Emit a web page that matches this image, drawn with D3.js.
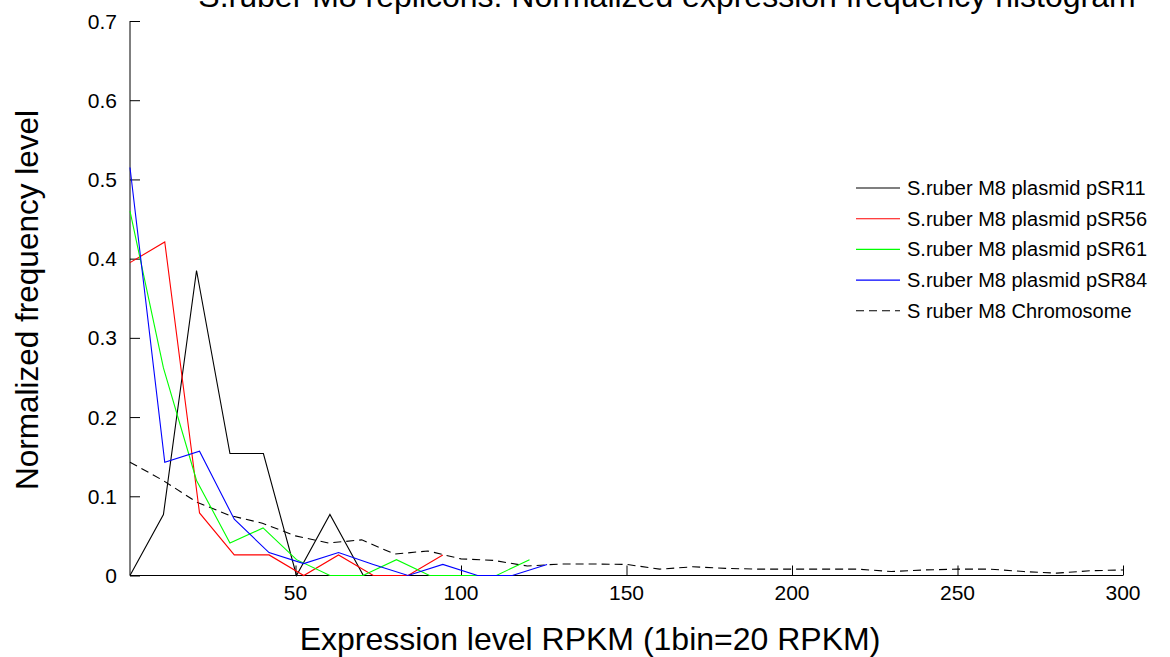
<!DOCTYPE html>
<html>
<head>
<meta charset="utf-8">
<script src="https://cdn.jsdelivr.net/npm/d3@7"></script>
<style>
  body { margin: 0; background: #fff; }
  svg { display: block; font-family: "Liberation Sans", Arial, sans-serif; }
</style>
</head>
<body>
<div id="chart"></div>
<script>
// bin centres (RPKM) and normalized frequencies
var binsSR11 = [0, 10.1, 20.1, 30.2, 40.3, 50.3, 60.4, 70.5];
var freqSR11 = [0, 0.077, 0.385, 0.154, 0.154, 0, 0.077, 0];

var binsSR56 = [0, 10.5, 21, 31.5, 42, 52.5, 63, 73.5, 84, 94.5];
var freqSR56 = [0.395, 0.421, 0.079, 0.026, 0.026, 0, 0.026, 0, 0, 0.026];

var binsSR61 = [0, 10.1, 20.1, 30.2, 40.2, 50.3, 60.4, 70.4, 80.5, 90.5, 100.6, 110.7, 120.7];
var freqSR61 = [0.46, 0.262, 0.12, 0.041, 0.06, 0.02, 0, 0, 0.02, 0, 0, 0, 0.02];

var binsSR84 = [0, 10.5, 21, 31.5, 42, 52.5, 63, 73.5, 84, 94.5, 105, 115.5, 126];
var freqSR84 = [0.515, 0.143, 0.157, 0.071, 0.029, 0.015, 0.029, 0.014, 0, 0.014, 0, 0, 0.014];

var binsChr = [0, 10, 20, 30, 40, 50, 60, 70, 80, 90, 100, 110, 120, 130, 140, 150,
               160, 170, 180, 190, 200, 210, 220, 230, 240, 250, 260, 270, 280, 290, 300];
var freqChr = [0.143, 0.12, 0.093, 0.076, 0.066, 0.05, 0.041, 0.045, 0.027, 0.031, 0.021,
               0.019, 0.012, 0.0145, 0.0145, 0.014, 0.008, 0.011, 0.009, 0.008, 0.008,
               0.008, 0.008, 0.005, 0.007, 0.008, 0.008, 0.005, 0.003, 0.006, 0.007];

var seriesNames = ["S.ruber M8 plasmid pSR11", "S.ruber M8 plasmid pSR56",
                   "S.ruber M8 plasmid pSR61", "S.ruber M8 plasmid pSR84",
                   "S ruber M8 Chromosome"];
var seriesColors = ["#000000", "#ff0000", "#00ff00", "#0000ff", "#000000"];

var xTicks = [50, 100, 150, 200, 250, 300];
var yTicks = [0, 0.1, 0.2, 0.3, 0.4, 0.5, 0.6, 0.7];

var titleText = "S.ruber M8 replicons: Normalized expression frequency histogram";
var xLabel = "Expression level RPKM (1bin=20 RPKM)";
var yLabel = "Normalized frequency level";

var width = 1170, height = 657;

var svg = d3.select("#chart").append("svg")
  .attr("width", width)
  .attr("height", height);

svg.append("rect").attr("width", width).attr("height", height).attr("fill", "#fff");

var x = d3.scaleLinear().domain([0, 300]).range([130, 1123]);
var y = d3.scaleLinear().domain([0, 0.7]).range([575.5, 21]);

// axes: ticks point inward like the matlab figure
var xAxis = svg.append("g")
  .attr("transform", "translate(0," + y(0) + ")")
  .call(d3.axisTop(x).tickValues(xTicks).tickSize(10).tickFormat(""));
xAxis.select(".domain").attr("d", "M" + x(0) + ",0H" + x(300));

var yAxis = svg.append("g")
  .attr("transform", "translate(" + x(0) + ",0)")
  .call(d3.axisRight(y).tickValues(yTicks).tickSize(10).tickFormat(""));
yAxis.select(".domain").attr("d", "M0," + y(0.7) + "V" + y(0));

svg.selectAll(".domain, .tick line").attr("stroke", "#000").attr("stroke-width", 1);

svg.selectAll(".xlab").data(xTicks).enter().append("text")
  .attr("x", function(d) { return x(d); })
  .attr("y", 600)
  .attr("text-anchor", "middle")
  .attr("font-size", 21)
  .text(function(d) { return d; });

svg.selectAll(".ylab").data(yTicks).enter().append("text")
  .attr("x", 117)
  .attr("y", function(d) { return y(d) + 7.5; })
  .attr("text-anchor", "end")
  .attr("font-size", 21)
  .text(function(d) { return d3.format("")(d); });

// series
var series = [
  {bins: binsSR11, freq: freqSR11},
  {bins: binsSR56, freq: freqSR56},
  {bins: binsSR61, freq: freqSR61},
  {bins: binsSR84, freq: freqSR84},
  {bins: binsChr, freq: freqChr}
];

var line = d3.line()
  .x(function(d) { return x(d[0]); })
  .y(function(d) { return y(d[1]); });

// chromosome drawn first so the plasmids sit on top
[4, 0, 1, 2, 3].forEach(function(i) {
  var s = series[i];
  svg.append("path")
    .datum(d3.zip(s.bins, s.freq))
    .attr("d", line)
    .attr("fill", "none")
    .attr("stroke", seriesColors[i])
    .attr("stroke-width", 1.1)
    .attr("stroke-dasharray", i == 4 ? "8,5" : null);
});

// legend
var legend = svg.append("g");
seriesNames.forEach(function(name, i) {
  var ly = 188 + i * 30.7;
  legend.append("line")
    .attr("x1", 856).attr("x2", 900)
    .attr("y1", ly).attr("y2", ly)
    .attr("stroke", seriesColors[i])
    .attr("stroke-width", 1.1)
    .attr("stroke-dasharray", i == 4 ? "8,5" : null);
  legend.append("text")
    .attr("x", 907)
    .attr("y", ly + 7)
    .attr("font-size", 20)
    .text(name);
});

// title (clipped by the top edge in the original)
svg.append("text")
  .attr("x", 667)
  .attr("y", 7)
  .attr("text-anchor", "middle")
  .attr("font-size", 32)
  .text(titleText);

svg.append("text")
  .attr("x", 590)
  .attr("y", 650)
  .attr("text-anchor", "middle")
  .attr("font-size", 32)
  .text(xLabel);

svg.append("text")
  .attr("transform", "translate(38,300) rotate(-90)")
  .attr("text-anchor", "middle")
  .attr("font-size", 31.5)
  .text(yLabel);
</script>
</body>
</html>
